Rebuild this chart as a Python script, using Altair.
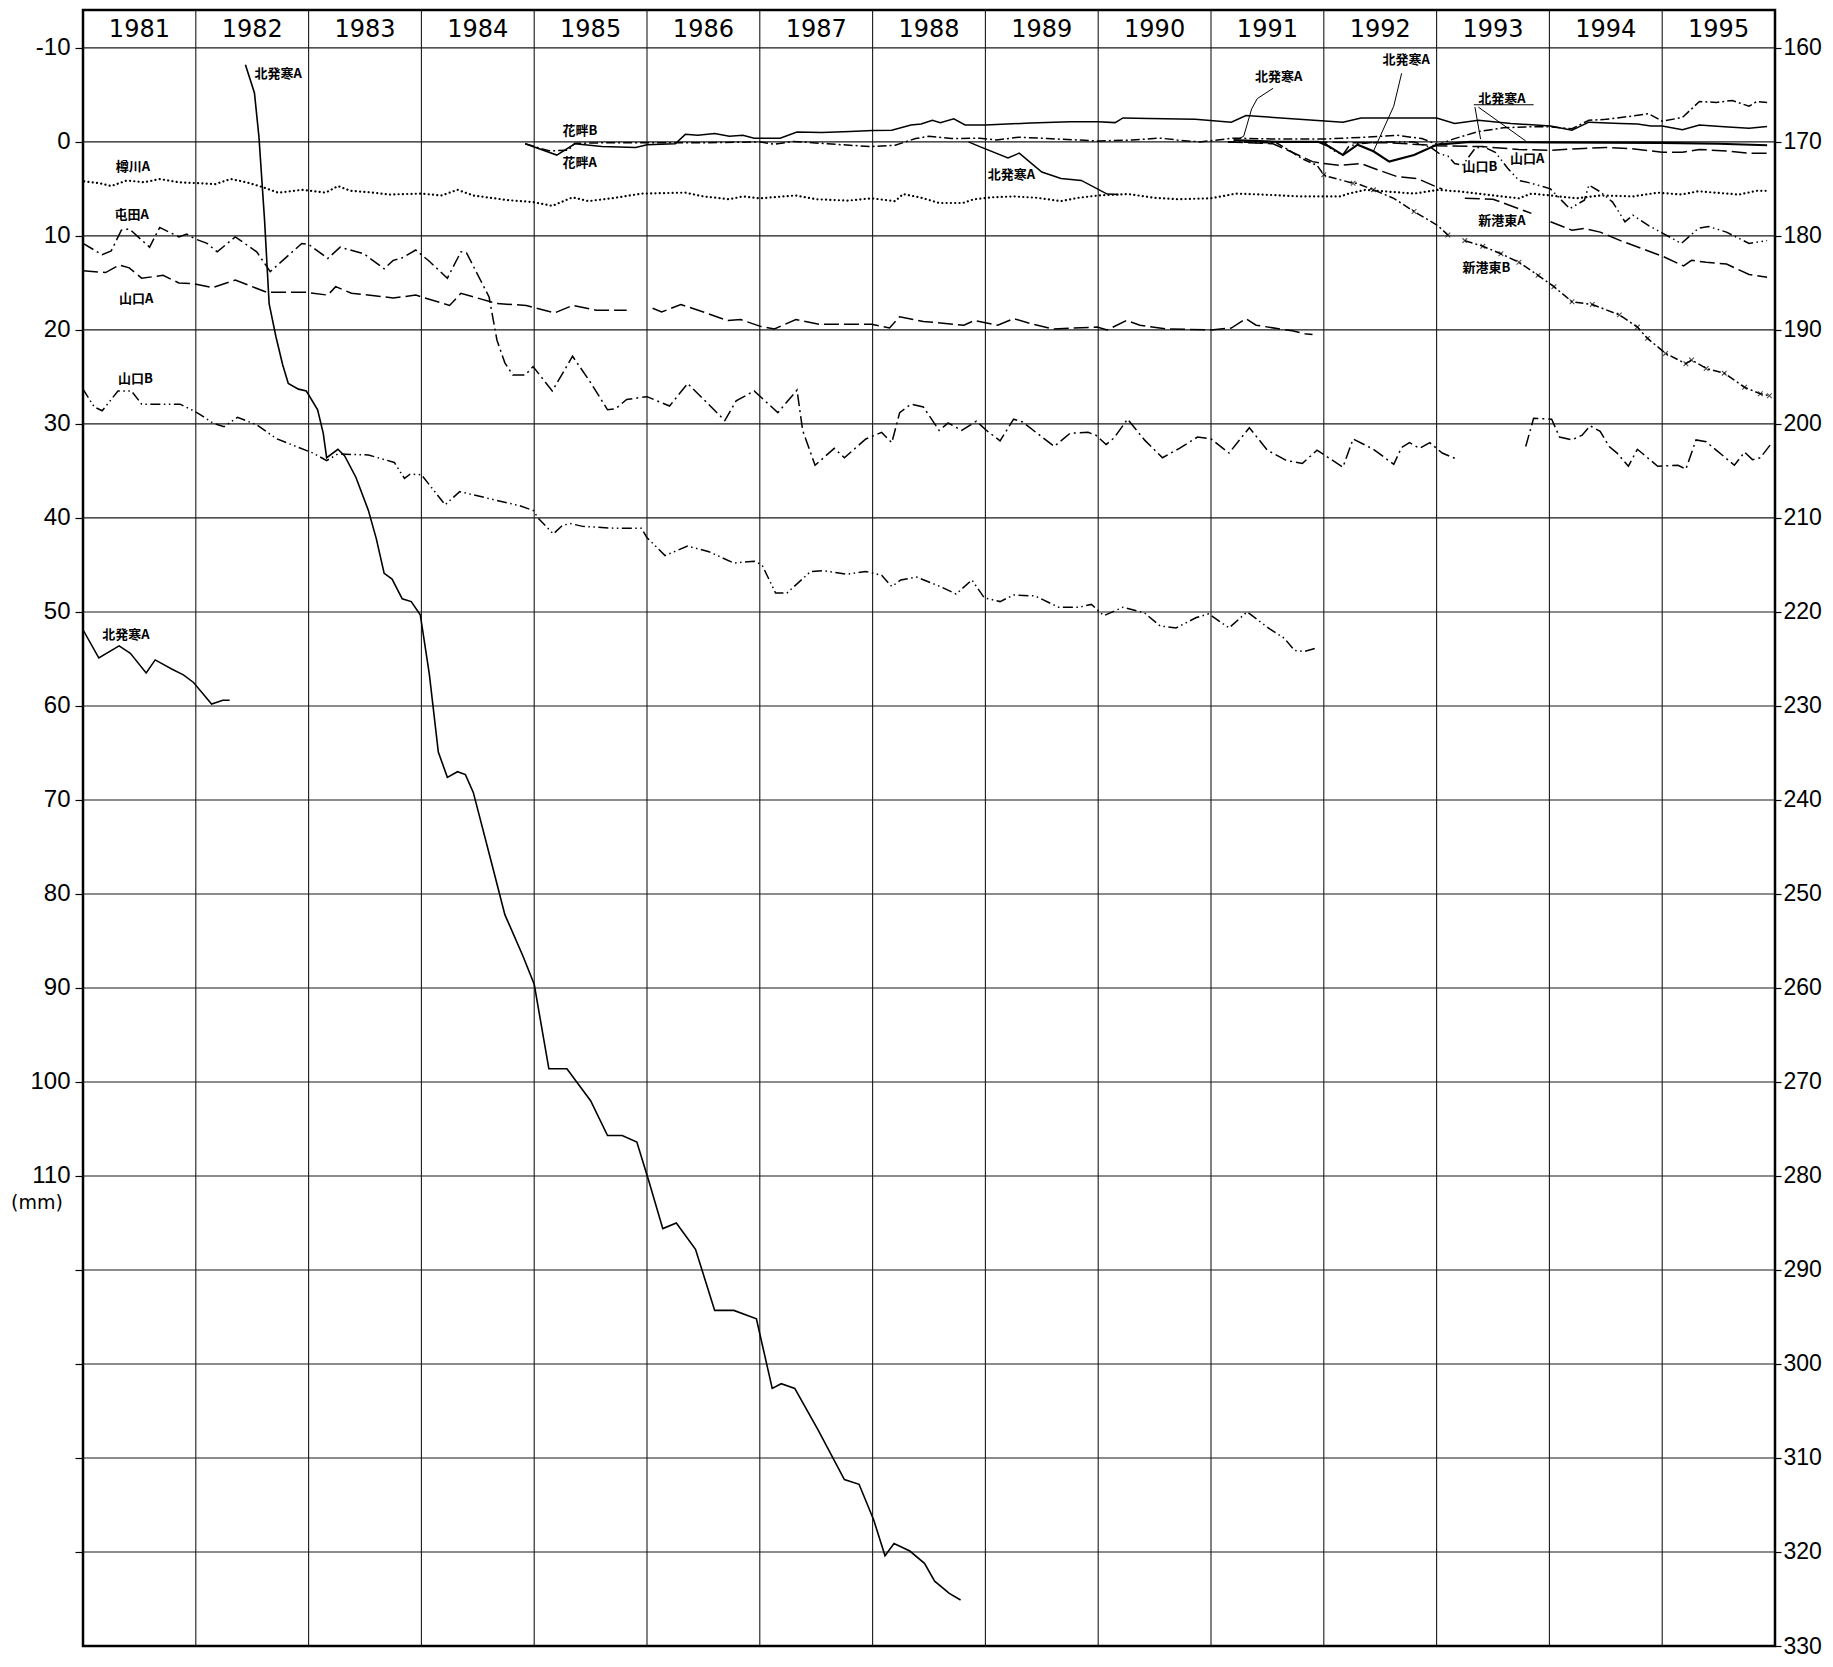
import altair as alt
import pandas as pd

# ---------------- axis / grid values ----------------
YEARS = list(range(1981, 1996))
LEFT_TICKS = list(range(-10, 160, 10))      # labelled -10 .. 110, ticks to 150
RIGHT_TICKS = list(range(-10, 161, 10))     # shown as 160 .. 330
H_GRID = list(range(-10, 160, 10))
V_GRID = list(range(1982, 1996))
UNIT_LABEL = "(mm)"

# ---------------- series (year, mm) ----------------
TARUKAWA_A = [(1981.01, 4.2), (1981.15, 4.4), (1981.25, 4.7), (1981.39, 4.1), (1981.54, 4.3), (1981.68, 3.95),
              (1981.85, 4.3), (1982.03, 4.4), (1982.17, 4.5), (1982.31, 3.95), (1982.45, 4.3), (1982.59, 4.8),
              (1982.73, 5.4), (1982.94, 5.1), (1983.15, 5.4), (1983.26, 4.7), (1983.37, 5.2), (1983.58, 5.4),
              (1983.72, 5.6), (1984.0, 5.5), (1984.18, 5.7), (1984.32, 5.1), (1984.46, 5.7), (1984.77, 6.2),
              (1984.99, 6.4), (1985.16, 6.8), (1985.34, 5.9), (1985.48, 6.3), (1985.69, 6.0), (1985.95, 5.5),
              (1986.34, 5.4), (1986.5, 5.8), (1986.73, 6.1), (1986.85, 5.8), (1987.0, 6.0), (1987.32, 5.7),
              (1987.5, 6.1), (1987.78, 6.25), (1987.99, 6.0), (1988.2, 6.3), (1988.27, 5.55), (1988.42, 5.9),
              (1988.59, 6.5), (1988.8, 6.5), (1988.9, 6.1), (1989.05, 5.9), (1989.25, 5.8), (1989.46, 5.95),
              (1989.67, 6.3), (1989.82, 5.95), (1990.0, 5.7), (1990.27, 5.55), (1990.5, 5.95), (1990.7, 6.1),
              (1991.0, 6.0), (1991.22, 5.5), (1991.45, 5.6), (1991.79, 5.8), (1991.93, 5.8), (1992.15, 5.8),
              (1992.22, 5.5), (1992.37, 5.1), (1992.58, 5.3), (1992.8, 5.5), (1993.01, 5.1), (1993.23, 5.3),
              (1993.44, 5.6), (1993.73, 6.0), (1993.84, 5.5), (1994.01, 5.7), (1994.24, 6.0), (1994.45, 5.7),
              (1994.74, 5.8), (1994.96, 5.4), (1995.17, 5.6), (1995.32, 5.25), (1995.47, 5.4), (1995.68, 5.6),
              (1995.84, 5.2), (1995.93, 5.2)]

TONDEN_A_1 = [(1981.0, 10.8), (1981.17, 12.0), (1981.25, 11.6), (1981.34, 9.4), (1981.41, 9.25), (1981.59, 11.2),
              (1981.68, 9.1), (1981.85, 10.1), (1981.92, 9.8), (1981.99, 10.3), (1982.1, 10.8), (1982.19, 11.7),
              (1982.35, 10.1), (1982.54, 11.7), (1982.66, 13.8), (1982.94, 10.8), (1983.0, 10.9), (1983.17, 12.4),
              (1983.28, 11.2), (1983.49, 11.9), (1983.67, 13.5), (1983.75, 12.6), (1983.82, 12.4), (1983.95, 11.5),
              (1984.07, 12.7), (1984.23, 14.5), (1984.35, 11.7), (1984.4, 11.8), (1984.6, 16.5), (1984.67, 21.1),
              (1984.74, 23.5), (1984.81, 24.8), (1984.92, 24.8), (1984.99, 23.9), (1985.16, 26.5), (1985.34, 22.8),
              (1985.5, 25.6), (1985.65, 28.5), (1985.72, 28.4), (1985.82, 27.4), (1986.0, 27.1), (1986.2, 28.1),
              (1986.36, 25.7), (1986.52, 27.6), (1986.69, 29.65), (1986.79, 27.55), (1986.95, 26.5), (1987.16, 28.8),
              (1987.33, 26.4), (1987.38, 30.7), (1987.49, 34.4), (1987.66, 32.6), (1987.75, 33.6), (1987.94, 31.6),
              (1988.08, 30.9), (1988.17, 32.0), (1988.24, 28.8), (1988.34, 27.9), (1988.45, 28.2), (1988.59, 30.7),
              (1988.67, 29.9), (1988.79, 30.7), (1988.92, 29.7), (1989.0, 30.6), (1989.13, 31.8), (1989.25, 29.5),
              (1989.33, 29.8), (1989.47, 31.1), (1989.61, 32.4), (1989.75, 31.0), (1989.91, 30.9), (1989.98, 31.2),
              (1990.07, 32.2), (1990.14, 31.5), (1990.26, 29.5), (1990.41, 31.7), (1990.57, 33.6), (1990.72, 32.6),
              (1990.88, 31.4), (1991.0, 31.6), (1991.16, 33.1), (1991.34, 30.4), (1991.5, 32.8), (1991.67, 33.9),
              (1991.81, 34.2), (1991.94, 32.8), (1992.17, 34.6), (1992.26, 31.6), (1992.44, 32.7), (1992.62, 34.3),
              (1992.69, 32.5), (1992.76, 32.0), (1992.85, 32.6), (1992.94, 32.0), (1993.05, 33.1), (1993.19, 33.8)]
TONDEN_A_2 = [(1993.79, 32.4), (1993.86, 29.4), (1994.02, 29.5), (1994.09, 31.4), (1994.2, 31.7), (1994.29, 31.2),
              (1994.36, 30.2), (1994.45, 30.8), (1994.53, 32.4), (1994.6, 33.1), (1994.7, 34.5), (1994.78, 32.7),
              (1994.96, 34.5), (1995.14, 34.4), (1995.21, 34.8), (1995.3, 31.7), (1995.39, 31.9), (1995.64, 34.4),
              (1995.73, 33.0), (1995.8, 33.8), (1995.87, 33.6), (1995.96, 32.2)]

YAMAGUCHI_A_1 = [(1981.0, 13.7), (1981.2, 13.9), (1981.32, 13.1), (1981.41, 13.4), (1981.52, 14.5), (1981.71, 14.2),
                 (1981.85, 15.0), (1981.99, 15.1), (1982.15, 15.5), (1982.35, 14.7), (1982.63, 16.0), (1982.98, 16.0),
                 (1983.17, 16.3), (1983.24, 15.4), (1983.38, 16.1), (1983.75, 16.6), (1983.95, 16.3), (1984.25, 17.4),
                 (1984.35, 16.1), (1984.67, 17.2), (1984.93, 17.4), (1985.18, 18.2), (1985.34, 17.4), (1985.55, 17.9),
                 (1985.82, 17.9)]
YAMAGUCHI_A_2 = [(1986.05, 17.7), (1986.13, 18.1), (1986.3, 17.3), (1986.5, 18.1), (1986.71, 19.0), (1986.83, 18.9),
                 (1987.0, 19.6), (1987.13, 19.9), (1987.32, 18.9), (1987.53, 19.4), (1987.99, 19.4), (1988.15, 19.8),
                 (1988.24, 18.6), (1988.45, 19.1), (1988.81, 19.5), (1988.9, 19.0), (1989.11, 19.5), (1989.25, 18.8),
                 (1989.39, 19.3), (1989.6, 19.9), (1989.99, 19.7), (1990.08, 20.0), (1990.25, 19.0), (1990.37, 19.5),
                 (1990.6, 19.9), (1991.0, 20.0), (1991.18, 19.8), (1991.31, 18.8), (1991.4, 19.5), (1991.72, 20.1),
                 (1991.83, 20.4), (1991.9, 20.5)]
YAMAGUCHI_A_3 = [(1991.9, 0.0), (1992.3, 0.1), (1992.6, 0.1), (1993.0, 0.4), (1993.4, 0.5), (1993.73, 0.8),
                 (1994.0, 0.9), (1994.3, 0.7), (1994.5, 0.6), (1994.71, 0.7), (1995.0, 1.1), (1995.18, 1.1),
                 (1995.33, 0.8), (1995.6, 1.0), (1995.77, 1.2), (1995.93, 1.2)]

YAMAGUCHI_B_1 = [(1981.0, 26.3), (1981.1, 28.2), (1981.17, 28.6), (1981.31, 26.5), (1981.43, 26.5), (1981.52, 27.9),
                 (1981.86, 27.9), (1981.98, 28.6), (1982.05, 29.1), (1982.15, 29.9), (1982.25, 30.3), (1982.37, 29.3),
                 (1982.54, 30.1), (1982.72, 31.6), (1982.89, 32.4), (1983.04, 33.1), (1983.16, 33.9), (1983.26, 33.2),
                 (1983.53, 33.3), (1983.76, 34.1), (1983.85, 35.8), (1983.9, 35.35), (1984.0, 35.4), (1984.21, 38.6),
                 (1984.34, 37.2), (1984.62, 38.0), (1984.87, 38.7), (1984.99, 39.2), (1985.04, 40.1), (1985.17, 41.7),
                 (1985.25, 40.8), (1985.32, 40.6), (1985.43, 40.9), (1985.57, 41.0), (1985.71, 41.1), (1985.95, 41.1),
                 (1986.0, 42.1), (1986.16, 44.0), (1986.36, 43.0), (1986.55, 43.6), (1986.77, 44.8), (1986.95, 44.6),
                 (1987.02, 45.0), (1987.14, 48.0), (1987.24, 48.0), (1987.45, 45.7), (1987.56, 45.6), (1987.77, 46.0),
                 (1987.94, 45.7), (1988.08, 46.1), (1988.17, 47.3), (1988.25, 46.6), (1988.39, 46.3), (1988.6, 47.3),
                 (1988.74, 48.1), (1988.88, 46.6), (1988.99, 48.5), (1989.13, 48.9), (1989.25, 48.2), (1989.44, 48.3),
                 (1989.65, 49.5), (1989.83, 49.5), (1989.94, 49.2), (1990.05, 50.4), (1990.22, 49.5), (1990.41, 50.1),
                 (1990.55, 51.5), (1990.69, 51.7), (1990.87, 50.6), (1990.98, 50.2), (1991.16, 51.7), (1991.32, 50.0),
                 (1991.52, 51.8), (1991.65, 52.8), (1991.74, 54.1), (1991.83, 54.2), (1991.92, 53.9)]
YAMAGUCHI_B_2 = [(1992.0, 0.0), (1992.08, 0.9), (1992.17, 1.35), (1992.22, 0.5), (1992.3, 0.2), (1992.5, 0.0),
                 (1992.8, 0.0), (1992.95, 0.6), (1993.03, 1.3), (1993.1, 1.5), (1993.16, 2.3), (1993.23, 2.5),
                 (1993.34, 0.7), (1993.41, 0.5), (1993.52, 1.1), (1993.63, 2.8), (1993.73, 4.1), (1993.84, 4.4),
                 (1994.01, 5.0), (1994.09, 6.0), (1994.18, 7.1), (1994.31, 6.2), (1994.35, 4.6), (1994.45, 5.3),
                 (1994.56, 6.4), (1994.67, 8.5), (1994.74, 7.8), (1994.88, 8.9), (1995.01, 9.75), (1995.17, 10.8),
                 (1995.32, 9.2), (1995.41, 9.0), (1995.57, 9.6), (1995.77, 10.8), (1995.93, 10.5)]

KITAHASSAMU_A_1 = [(1981.0, 51.9), (1981.14, 54.9), (1981.32, 53.6), (1981.42, 54.4), (1981.56, 56.5), (1981.64, 55.1),
                   (1981.79, 56.1), (1981.89, 56.7), (1981.98, 57.5), (1982.14, 59.8), (1982.24, 59.4), (1982.3, 59.4)]
KITAHASSAMU_A_2 = [(1982.44, -8.2), (1982.52, -5.2), (1982.56, -0.5), (1982.61, 8.4), (1982.65, 17.2), (1982.71, 20.7),
                   (1982.77, 23.7), (1982.82, 25.7), (1982.91, 26.3), (1982.98, 26.5), (1983.08, 28.5), (1983.13, 31.0),
                   (1983.16, 33.6), (1983.26, 32.7), (1983.32, 33.4), (1983.42, 35.7), (1983.53, 39.2), (1983.6, 42.2),
                   (1983.67, 45.9), (1983.74, 46.5), (1983.83, 48.6), (1983.91, 48.9), (1983.99, 50.3), (1984.07, 56.6),
                   (1984.15, 64.9), (1984.23, 67.6), (1984.32, 67.0), (1984.39, 67.3), (1984.46, 69.2), (1984.62, 76.6),
                   (1984.74, 82.2), (1984.9, 86.6), (1985.0, 89.6), (1985.13, 98.6), (1985.29, 98.6), (1985.5, 102.0),
                   (1985.65, 105.7), (1985.78, 105.7), (1985.91, 106.4), (1986.02, 110.7), (1986.14, 115.6),
                   (1986.26, 115.0), (1986.43, 117.8), (1986.6, 124.3), (1986.77, 124.3), (1986.97, 125.2),
                   (1987.11, 132.6), (1987.19, 132.1), (1987.31, 132.6), (1987.52, 137.1), (1987.75, 142.3),
                   (1987.88, 142.8), (1988.01, 146.6), (1988.11, 150.4), (1988.19, 149.1), (1988.33, 149.9),
                   (1988.46, 151.2), (1988.55, 153.1), (1988.68, 154.4), (1988.78, 155.1)]
KITAHASSAMU_A_3 = [(1988.85, 0.0), (1988.95, 0.5), (1989.2, 1.7), (1989.3, 1.2), (1989.5, 3.2), (1989.67, 3.9),
                   (1989.85, 4.1), (1990.08, 5.55), (1990.18, 5.6)]
KITAHASSAMU_A_4 = [(1991.2, -0.2), (1991.6, 0.0), (1991.95, 0.0), (1992.05, 0.5), (1992.17, 1.4), (1992.3, 0.3),
                   (1992.44, 1.0), (1992.58, 2.1), (1992.8, 1.4), (1993.0, 0.3), (1993.3, 0.0), (1994.0, 0.05),
                   (1995.0, 0.1), (1995.5, 0.2), (1995.93, 0.35)]

BANAGURO_B = [(1984.92, 0.2), (1985.2, 1.4), (1985.36, 0.2), (1985.6, 0.5), (1985.9, 0.6), (1986.0, 0.3),
              (1986.25, 0.2), (1986.34, -0.8), (1986.45, -0.7), (1986.6, -0.9), (1986.73, -0.6), (1986.85, -0.7),
              (1986.95, -0.4), (1987.18, -0.4), (1987.33, -1.05), (1987.55, -1.0), (1987.8, -1.1), (1988.0, -1.2),
              (1988.17, -1.25), (1988.34, -1.8), (1988.43, -1.9), (1988.53, -2.3), (1988.6, -2.05), (1988.72, -2.45),
              (1988.82, -1.8), (1989.0, -1.8), (1989.4, -2.0), (1989.75, -2.15), (1990.0, -2.15), (1990.15, -2.05),
              (1990.22, -2.55), (1990.45, -2.5), (1990.86, -2.4), (1991.18, -2.1), (1991.31, -2.8), (1992.17, -2.1),
              (1992.33, -2.55), (1993.0, -2.55), (1993.16, -1.95), (1993.37, -2.3), (1993.66, -1.95), (1994.01, -1.7),
              (1994.2, -1.25), (1994.35, -2.1), (1994.63, -1.95), (1994.78, -1.9), (1994.9, -1.7), (1995.0, -1.7),
              (1995.18, -1.3), (1995.33, -1.8), (1995.55, -1.6), (1995.77, -1.45), (1995.93, -1.65)]
BANAGURO_A = [(1984.92, 0.2), (1985.13, 0.95), (1985.3, 0.9), (1985.36, 0.15), (1985.6, 0.1), (1986.0, 0.1),
              (1986.5, 0.1), (1987.0, 0.0), (1987.13, 0.25), (1987.3, -0.05), (1987.6, 0.2), (1987.98, 0.5),
              (1988.2, 0.35), (1988.38, -0.35), (1988.5, -0.6), (1988.7, -0.35), (1988.95, -0.4), (1989.1, -0.2),
              (1989.3, -0.5), (1989.55, -0.35), (1990.0, -0.1), (1990.3, -0.2), (1990.55, -0.4), (1990.7, -0.2),
              (1990.9, 0.0), (1991.2, -0.4), (1991.6, -0.3), (1992.0, -0.3), (1992.37, -0.5), (1992.65, -0.7),
              (1992.87, -0.35), (1993.01, 0.3), (1993.16, -0.35), (1993.37, -1.1), (1993.59, -1.5), (1993.81, -1.6),
              (1994.0, -1.6), (1994.2, -1.4), (1994.35, -2.3), (1994.5, -2.4), (1994.74, -2.75), (1994.88, -3.0),
              (1995.0, -2.2), (1995.18, -2.6), (1995.33, -4.3), (1995.48, -4.2), (1995.62, -4.4), (1995.77, -3.8),
              (1995.84, -4.3), (1995.93, -4.2)]

SHINKOHIGASHI_A_1 = [(1991.15, 0.0), (1991.55, 0.2), (1991.72, 1.1), (1991.9, 2.1), (1992.0, 2.3), (1992.15, 2.5),
                     (1992.33, 2.3), (1992.44, 2.8), (1992.65, 3.7), (1992.83, 3.9), (1993.0, 4.8), (1993.05, 5.0)]
SHINKOHIGASHI_A_2 = [(1993.25, 6.0), (1993.5, 6.1), (1993.84, 7.6)]
SHINKOHIGASHI_A_3 = [(1994.01, 8.5), (1994.2, 9.4), (1994.31, 9.2), (1994.45, 9.6), (1994.63, 10.5), (1994.81, 11.3),
                     (1995.01, 12.2), (1995.19, 13.2), (1995.26, 12.6), (1995.39, 12.8), (1995.57, 13.0),
                     (1995.77, 14.1), (1995.93, 14.4)]
SHINKOHIGASHI_B_1 = [(1991.15, 0.0), (1991.58, 0.1), (1991.68, 0.8), (1991.81, 1.8), (1991.94, 2.5), (1992.0, 3.5),
                     (1992.04, 3.7), (1992.26, 4.4), (1992.29, 4.4), (1992.44, 5.1), (1992.62, 6.0), (1992.8, 7.4),
                     (1993.01, 8.9), (1993.1, 9.9)]
SHINKOHIGASHI_B_2 = [(1993.25, 10.5), (1993.41, 11.1), (1993.57, 11.9), (1993.73, 12.8), (1993.9, 14.2),
                     (1994.04, 15.4), (1994.2, 17.0), (1994.38, 17.3), (1994.62, 18.4), (1994.78, 19.7),
                     (1994.87, 20.9), (1995.03, 22.5), (1995.21, 23.6), (1995.26, 23.2), (1995.39, 24.1),
                     (1995.55, 24.6), (1995.73, 26.1), (1995.87, 26.8), (1995.95, 27.0)]
SHINKOHIGASHI_B_MARKS = SHINKOHIGASHI_B_1[5::2] + SHINKOHIGASHI_B_2

# leader lines of the labels
LEADER_1991 = [(1991.24, -0.3), (1991.29, -0.6), (1991.36, -3.5), (1991.41, -4.6), (1991.55, -5.7)]
LEADER_1992 = [(1992.44, 1.0), (1992.62, -3.8), (1992.69, -7.3)]
LEADER_1993_A = [(1993.34, -3.7), (1993.39, -0.3)]
LEADER_1993_B = [(1993.37, -3.7), (1993.79, -0.1)]
UNDERLINE_1993 = [(1993.33, -3.95), (1993.86, -3.95)]

# text labels (text, year, mm)
LABELS = [("北発寒A", 1982.52, -7.2), ("樽川A", 1981.29, 2.65), ("屯田A", 1981.28, 7.8),
          ("山口A", 1981.32, 16.7), ("山口B", 1981.31, 25.2), ("花畔B", 1985.25, -1.15),
          ("花畔A", 1985.25, 2.2), ("北発寒A", 1981.17, 52.5), ("北発寒A", 1989.02, 3.5),
          ("北発寒A", 1991.39, -6.9), ("北発寒A", 1992.52, -8.7), ("北発寒A", 1993.37, -4.6),
          ("山口B", 1993.23, 2.7), ("山口A", 1993.65, 1.8), ("新港東A", 1993.37, 8.4),
          ("新港東B", 1993.23, 13.4)]

# ---------------- chart ----------------
XS = alt.Scale(domain=[1981, 1996], nice=False, zero=False)
YS = alt.Scale(domain=[-14.03, 160], reverse=True, nice=False, zero=False)
X = alt.X("t:Q", scale=XS, axis=None)
Y = alt.Y("v:Q", scale=YS, axis=None)


def line(points, dash=None, width=1.5, cap="butt"):
    df = pd.DataFrame(points, columns=["t", "v"])
    kw = dict(color="black", strokeWidth=width, strokeCap=cap, clip=True)
    if dash:
        kw["strokeDash"] = dash
    return alt.Chart(df).mark_line(**kw).encode(x=X, y=Y)


h_grid = alt.Chart(pd.DataFrame({"v": H_GRID})).mark_rule(color="#1a1a1a", strokeWidth=1.1).encode(
    y=alt.Y("v:Q", scale=YS, axis=alt.Axis(
        orient="left", values=LEFT_TICKS, grid=False, domain=False, ticks=True, tickSize=8,
        tickColor="black", tickWidth=1.2, labelPadding=5, labelFontSize=24, labelFont="Liberation Sans",
        labelColor="black", labelExpr="datum.value <= 110 ? '' + datum.value : ''", title=None)))
right_axis = alt.Chart(pd.DataFrame({"v": RIGHT_TICKS})).mark_rule(opacity=0).encode(
    y=alt.Y("v:Q", scale=YS, axis=alt.Axis(
        orient="right", values=RIGHT_TICKS, grid=False, domain=False, ticks=True, tickSize=6,
        tickColor="black", tickWidth=1.2, labelPadding=2, labelFontSize=23, labelFont="Liberation Sans",
        labelColor="black", labelExpr="'' + (datum.value + 170)", title=None)))
v_grid = alt.Chart(pd.DataFrame({"t": V_GRID})).mark_rule(color="#1a1a1a", strokeWidth=1.1).encode(x=X)

header = alt.Chart(pd.DataFrame({"t": [y + 0.5 for y in YEARS], "v": [-11.9] * len(YEARS),
                                 "label": [str(y) for y in YEARS]})).mark_text(
    font="DejaVu Sans", fontSize=24, baseline="middle", align="center", color="black").encode(
    x=X, y=Y, text="label:N")

unit = alt.Chart(pd.DataFrame({"v": [112.9], "label": [UNIT_LABEL]})).mark_text(
    font="DejaVu Sans", fontSize=19, align="center", baseline="middle", color="black").encode(
    x=alt.value(-46), y=Y, text="label:N")

DOT = [0.1, 4.2]
DASH_DOT = [12, 4, 2, 4]
LONG_DASH = [15, 5]
DASH_DOT_DOT = [10, 3.5, 1.5, 3.5, 1.5, 3.5]

layers = [h_grid, right_axis, v_grid, header, unit,
          line(TARUKAWA_A, DOT, 2.2, "round"),
          line(TONDEN_A_1, DASH_DOT), line(TONDEN_A_2, DASH_DOT),
          line(YAMAGUCHI_A_1, LONG_DASH), line(YAMAGUCHI_A_2, LONG_DASH), line(YAMAGUCHI_A_3, LONG_DASH),
          line(YAMAGUCHI_B_1, DASH_DOT_DOT), line(YAMAGUCHI_B_2, DASH_DOT_DOT),
          line(KITAHASSAMU_A_1), line(KITAHASSAMU_A_2, width=1.6), line(KITAHASSAMU_A_3),
          line(KITAHASSAMU_A_4, width=2.1),
          line(BANAGURO_B), line(BANAGURO_A, [9, 3, 2, 3]),
          line(SHINKOHIGASHI_A_1, LONG_DASH), line(SHINKOHIGASHI_A_2, LONG_DASH), line(SHINKOHIGASHI_A_3, LONG_DASH),
          line(SHINKOHIGASHI_B_1, [8, 3, 2, 3]), line(SHINKOHIGASHI_B_2, [8, 3, 2, 3]),
          line(LEADER_1991, width=1.0), line(LEADER_1992, width=1.0), line(LEADER_1993_A, width=1.0),
          line(LEADER_1993_B, width=1.0), line(UNDERLINE_1993, width=1.0)]

marks = alt.Chart(pd.DataFrame(SHINKOHIGASHI_B_MARKS, columns=["t", "v"])).mark_point(
    shape="M-1,-1L1,1M-1,1L1,-1", size=22, strokeWidth=1.1, color="black", filled=False).encode(x=X, y=Y)

texts = alt.Chart(pd.DataFrame(LABELS, columns=["label", "t", "v"])).mark_text(
    font="Noto Sans CJK JP", fontSize=13, fontWeight="bold", align="left", baseline="middle",
    color="black").encode(x=X, y=Y, text="label:N")

chart = alt.layer(*layers, marks, texts).resolve_axis(y="independent").properties(
    width=1692, height=1636,
    autosize=alt.AutoSizeParams(type="none"),
    padding={"left": 75, "top": 2, "right": 50, "bottom": 16},
    background="white",
).configure_view(stroke="black", strokeWidth=2.5)

chart.save("out.html", embed_options={"renderer": "svg", "actions": False})
